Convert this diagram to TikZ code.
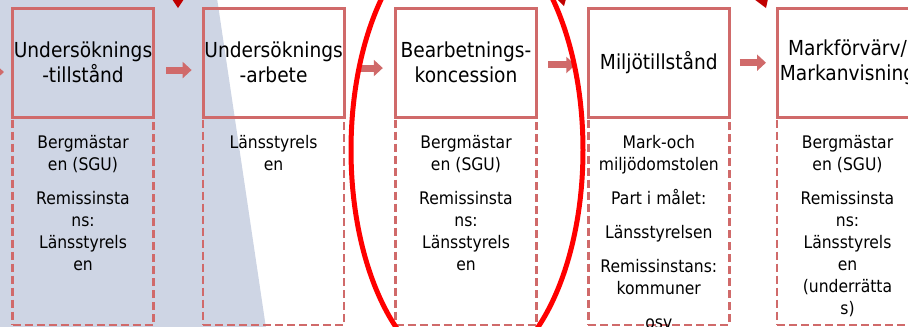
\documentclass[tikz,border=0pt]{standalone}
\usepackage{fontspec}
\setmainfont{DejaVu Sans}[FakeStretch=0.9]
\usetikzlibrary{arrows.meta}
\definecolor{boxred}{HTML}{D06A6A}
\definecolor{bgblue}{HTML}{CED5E4}
\definecolor{ellred}{HTML}{FF0000}
\definecolor{tipred}{HTML}{C00000}
\begin{document}
\begin{tikzpicture}[x=0.75pt,y=-0.75pt,
  topbox/.style={draw=boxred, line width=2.25pt, minimum width=105.75pt, minimum height=82pt,
    inner sep=0pt, outer sep=0pt, align=center, font=\fontsize{15.5}{18.75}\selectfont},
  botbox/.style={draw=boxred, line width=1.9pt, dash pattern=on 6pt off 3pt, minimum width=105.75pt,
    minimum height=155.8pt, inner sep=0pt, outer sep=0pt, anchor=north},
  bodytext/.style={inner sep=0pt, outer sep=0pt, align=center, anchor=north,
    font=\fontsize{13}{16.5}\selectfont},
  conn/.style={draw=boxred, line width=5.25pt, -{Triangle[length=6.75pt,width=12pt]}},
  tiptri/.style={fill=tipred, draw=none}]
\useasboundingbox (0,0) rectangle (908,326);
\clip (0,0) rectangle (908,326);
% background band
\fill[bgblue] (-2,-2) -- (217,-2) -- (266,328) -- (-2,328) -- cycle;
% small dark red tips at the top
\fill[tiptri] (172,-1) -- (184,-1) -- (178,8) -- cycle;
\fill[tiptri] (557,-1) -- (566,-1) -- (564,6) -- cycle;
\fill[tiptri] (754,-1) -- (768,-1) -- (766,8) -- cycle;
% lower dashed boxes
\node[botbox] (b1) at (83,117.3) {};
\node[botbox] (b2) at (273.6,117.3) {};
\node[botbox] (b3) at (466,117.3) {};
\node[botbox] (b4) at (658.8,117.3) {};
\node[botbox] (b5) at (847.5,117.3) {};
% upper boxes
\node[topbox] (t1) at (83,62.7) {Undersöknings\\-tillstånd};
\node[topbox] (t2) at (273.6,62.7) {Undersöknings\\-arbete};
\node[topbox] (t3) at (466,62.7) {Bearbetnings-\\koncession};
\node[topbox] (t4) at (658.8,62.7) {Miljötillstånd};
\node[topbox] (t5) at (847.5,62.7) {Markförvärv/\\Markanvisning};
% texts in the lower boxes
\node[bodytext] (x1) at ([yshift=-13.3pt]b1.north) {Bergmästar\\en (SGU)\\[9pt]Remissinsta\\ns:\\Länsstyrels\\en};
\node[bodytext] (x2) at ([yshift=-13.3pt]b2.north) {Länsstyrels\\en};
\node[bodytext] (x3) at ([yshift=-13.3pt]b3.north) {Bergmästar\\en (SGU)\\[9pt]Remissinsta\\ns:\\Länsstyrels\\en};
\node[bodytext] (x4) at ([yshift=-13.3pt]b4.north) {Mark-och\\miljödomstolen\\[9pt]Part i målet:\\[9pt]Länsstyrelsen\\[9pt]Remissinstans:\\kommuner\\[9pt]osv};
\node[bodytext] (x5) at ([yshift=-13.3pt]b5.north) {Bergmästar\\en (SGU)\\[9pt]Remissinsta\\ns:\\Länsstyrels\\en\\(underrätta\\s)};
% arrows
\coordinate (a0) at (-22,72);
\draw[conn] (a0) -- ([xshift=-6.4pt,yshift=-7pt]t1.west);
\draw[conn] ([xshift=9.4pt,yshift=-5.5pt]t1.east) -- ([xshift=-8.6pt,yshift=-5.5pt]t2.west);
\draw[conn] ([xshift=10pt,yshift=-4pt]t2.east) -- ([xshift=-9.5pt,yshift=-4pt]t3.west);
\draw[conn] ([xshift=8.8pt,yshift=-1.7pt]t3.east) -- ([xshift=-9.75pt,yshift=-1.7pt]t4.west);
\draw[conn] ([xshift=7.7pt]t4.east) -- ([xshift=-8.25pt]t5.west);
% highlight ellipse
\draw[ellred, line width=3.75pt] (467,150) ellipse [x radius=87pt, y radius=168pt];
\end{tikzpicture}
\end{document}
